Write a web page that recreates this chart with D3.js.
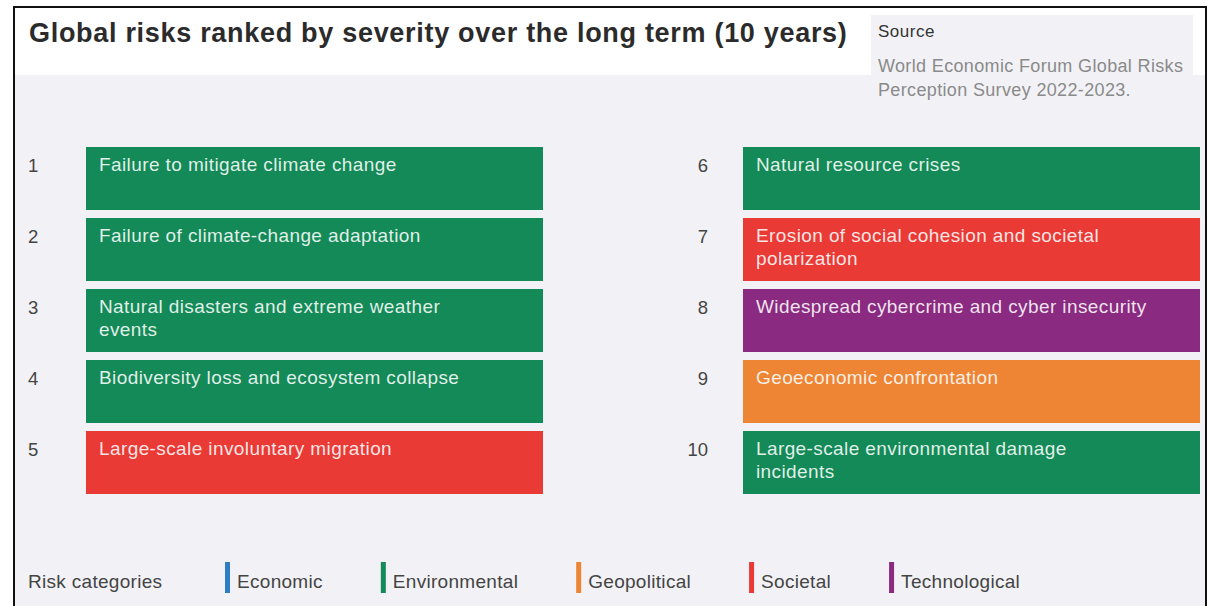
<!DOCTYPE html>
<html>
<head>
<meta charset="utf-8">
<script src="https://cdn.jsdelivr.net/npm/d3@7"></script>
<style>
  html, body { margin: 0; padding: 0; background: #ffffff; }
  svg { display: block; font-family: "Liberation Sans", Arial, sans-serif; }
</style>
</head>
<body>
<svg id="chart" width="1209" height="606"></svg>
<script>
// ranked risks, 10 year horizon
const ranks = [1, 2, 3, 4, 5, 6, 7, 8, 9, 10];
const risks = [
  "Failure to mitigate climate change",
  "Failure of climate-change adaptation",
  "Natural disasters and extreme weather\nevents",
  "Biodiversity loss and ecosystem collapse",
  "Large-scale involuntary migration",
  "Natural resource crises",
  "Erosion of social cohesion and societal\npolarization",
  "Widespread cybercrime and cyber insecurity",
  "Geoeconomic confrontation",
  "Large-scale environmental damage\nincidents"
];
const riskCategory = [
  "Environmental", "Environmental", "Environmental", "Environmental", "Societal",
  "Environmental", "Societal", "Technological", "Geopolitical", "Environmental"
];
const categories = ["Economic", "Environmental", "Geopolitical", "Societal", "Technological"];
const categoryColors = ["#2e7ec3", "#138a57", "#ee8535", "#e93a36", "#8a2a80"];

const svg = d3.select("#chart");
const W = 1209, H = 606;

const color = d3.scaleOrdinal().domain(categories).range(categoryColors);

// frame: white title strip, grey body
svg.append("rect").attr("x", 14).attr("y", 7).attr("width", 1192).attr("height", H)
  .attr("fill", "#f2f2f6");
svg.append("rect").attr("x", 14).attr("y", 7).attr("width", 1192).attr("height", 68)
  .attr("fill", "#ffffff");
// source box
svg.append("rect").attr("x", 871).attr("y", 15).attr("width", 322).attr("height", 100)
  .attr("fill", "#f2f2f6");
svg.append("rect").attr("x", 14).attr("y", 7).attr("width", 1192).attr("height", H)
  .attr("fill", "none").attr("stroke", "#111").attr("stroke-width", 2);

svg.append("text")
  .attr("x", 29).attr("y", 42)
  .attr("font-size", 27).attr("font-weight", "bold").attr("fill", "#2b2b2b")
  .attr("letter-spacing", 0.7)
  .text("Global risks ranked by severity over the long term (10 years)");

svg.append("text").attr("x", 878).attr("y", 37)
  .attr("font-size", 17).attr("fill", "#333").attr("letter-spacing", 0.5)
  .text("Source");
svg.append("text").attr("x", 878).attr("y", 72)
  .attr("font-size", 18).attr("fill", "#8a8a8a").attr("letter-spacing", 0.35)
  .selectAll("tspan")
  .data(["World Economic Forum Global Risks", "Perception Survey 2022-2023."])
  .join("tspan")
  .attr("x", 878).attr("dy", (d, i) => i ? 24 : 0)
  .text(d => d);

// two columns of five rows
const col = d3.scaleBand().domain([0, 1]).range([86, 1200]).paddingInner(0.3044);
const row = d3.scaleBand().domain(d3.range(5)).range([147, 494]).paddingInner(0.1127);

const items = ranks.map((r, i) => ({
  rank: r, label: risks[i], cat: riskCategory[i],
  c: Math.floor(i / 5), r: i % 5
}));

const g = svg.append("g").selectAll("g").data(items).join("g")
  .attr("transform", d => `translate(${col(d.c)},${row(d.r)})`);

g.append("rect")
  .attr("width", col.bandwidth())
  .attr("height", row.bandwidth())
  .attr("fill", d => color(d.cat));

g.append("text")
  .attr("x", d => d.c === 0 ? -58 : -35)
  .attr("y", 25)
  .attr("text-anchor", d => d.c === 0 ? "start" : "end")
  .attr("font-size", 18.5).attr("fill", "#444")
  .text(d => d.rank);

g.append("text")
  .attr("x", 13).attr("y", 24)
  .attr("font-size", 19).attr("letter-spacing", 0.4)
  .attr("fill", "#ffffff").attr("fill-opacity", 0.88)
  .selectAll("tspan")
  .data(d => d.label.split("\n"))
  .join("tspan")
  .attr("x", 13).attr("dy", (d, i) => i ? 23 : 0)
  .text(d => d);

// legend
const legendY = 588;
svg.append("text").attr("x", 28).attr("y", legendY)
  .attr("font-size", 19).attr("letter-spacing", 0.3).attr("fill", "#444")
  .text("Risk categories");

let lx = 225;
categories.forEach(cat => {
  const lg = svg.append("g").attr("transform", `translate(${lx},${legendY})`);
  lg.append("rect").attr("x", 0).attr("y", -26).attr("width", 5).attr("height", 31)
    .attr("fill", color(cat));
  const t = lg.append("text").attr("x", 12).attr("y", 0)
    .attr("font-size", 19).attr("letter-spacing", 0.3).attr("fill", "#444").text(cat);
  lx += 12 + t.node().getComputedTextLength() + 58;
});
</script>
</body>
</html>
